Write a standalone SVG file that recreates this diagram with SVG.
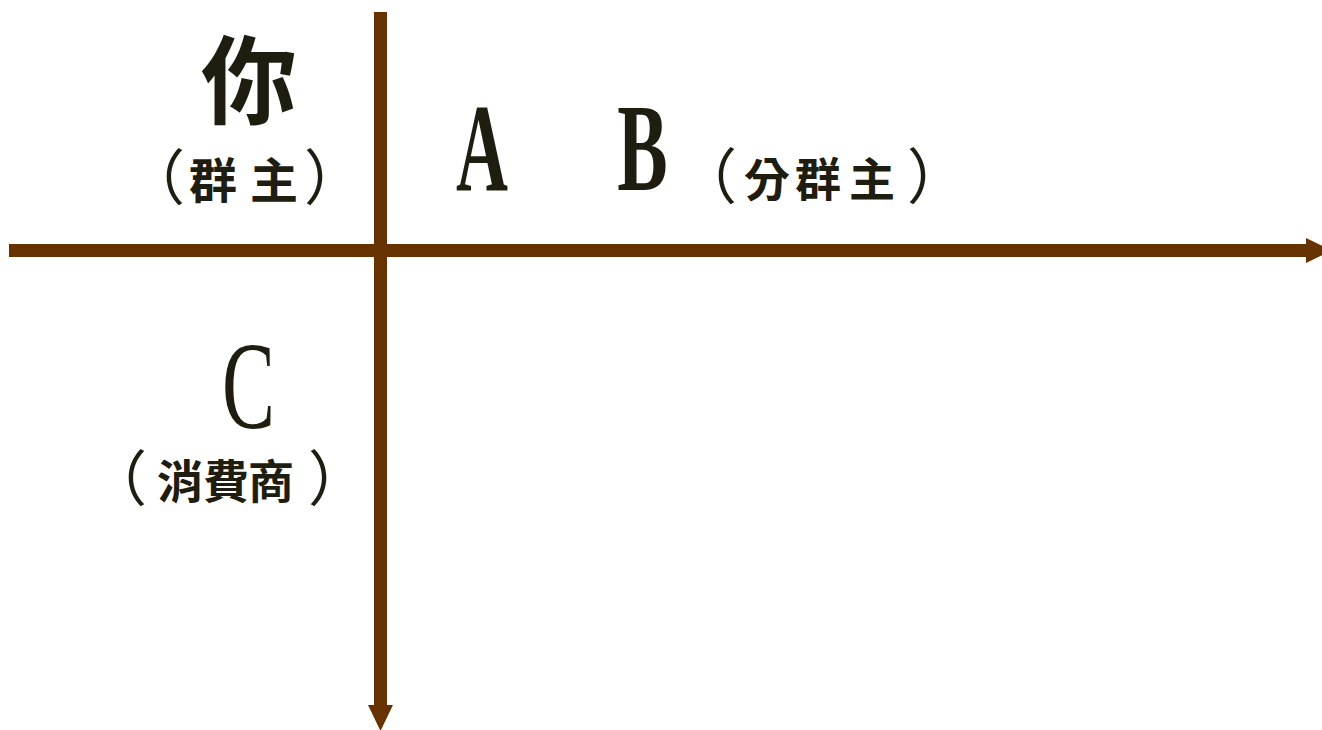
<svg xmlns="http://www.w3.org/2000/svg" width="1322" height="730" viewBox="0 0 1322 730">
<style>
.axis{stroke:#663300;stroke-width:13;fill:none}
.cjk{font-family:"Noto Sans CJK TC","Noto Sans CJK SC",sans-serif;font-weight:700;fill:#1f1c10;text-anchor:middle}
.par{font-family:"Noto Sans CJK TC","Noto Sans CJK SC",sans-serif;font-weight:400;fill:#1f1c10;text-anchor:middle;font-size:60px}
.lat{font-family:"Liberation Serif",serif;fill:#1f1c10;text-anchor:middle;font-size:124px}
</style>
<defs>
<marker id="head" markerUnits="userSpaceOnUse" markerWidth="26" markerHeight="25" refX="0" refY="12.5" orient="auto" viewBox="0 0 26 25">
<path d="M0,0 L26,12.5 L0,25 Z" fill="#663300"/>
</marker>
</defs>
<rect width="1322" height="730" fill="#ffffff"/>
<g id="connectors">
<line class="axis" x1="9" y1="250.5" x2="1306" y2="250.5" marker-end="url(#head)"/>
<line class="axis" x1="380.5" y1="12" x2="380.5" y2="705" marker-end="url(#head)"/>
</g>
<g id="node-you">
<text class="cjk" x="249" y="116" font-size="96">你</text>
<text class="par" y="200" x="155">（</text>
<text class="cjk" font-size="48" y="198" x="213 274">群主</text>
<text class="par" y="200" x="334">）</text>
</g>
<g id="node-A">
<g transform="translate(482,190) scale(0.58,1)"><text class="lat" font-weight="700" x="0" y="0">A</text></g>
</g>
<g id="node-B">
<g transform="translate(642.5,190) scale(0.61,1)"><text class="lat" font-weight="700" x="0" y="0">B</text></g>
<text class="par" y="199" x="707">（</text>
<text class="cjk" font-size="46" y="196" x="767 818 872">分群主</text>
<text class="par" y="199" x="937">）</text>
</g>
<g id="node-C">
<g transform="translate(248.5,428) scale(0.64,1)"><text class="lat" x="0" y="0">C</text></g>
<text class="par" y="501" x="117">（</text>
<text class="cjk" font-size="46" y="498" x="180 226 271">消費商</text>
<text class="par" y="501" x="338">）</text>
</g>
</svg>
